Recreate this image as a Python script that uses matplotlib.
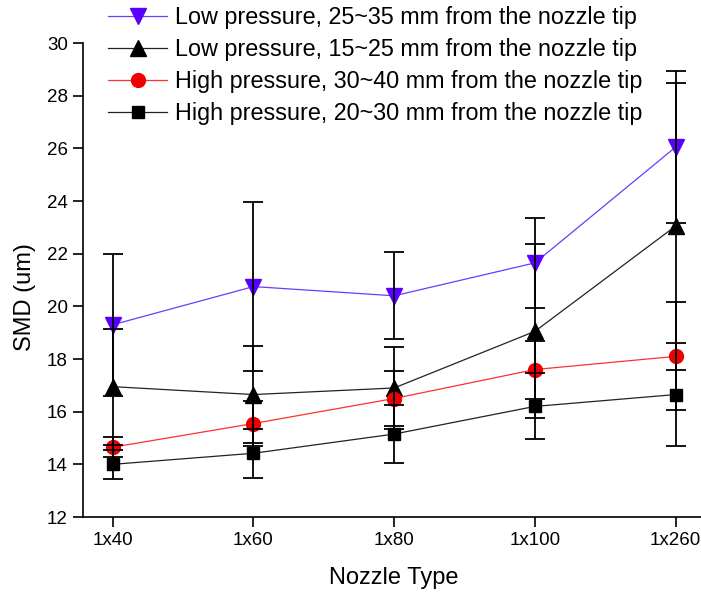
import matplotlib
matplotlib.use("Agg")
import matplotlib.pyplot as plt

plt.rcParams['font.family'] = ['Liberation Sans', 'DejaVu Sans']

# Nozzle types on the x axis
nozzles = ['1x40', '1x60', '1x80', '1x100', '1x260']

# SMD values (um), with their error bars
low_25_35 = [19.3, 20.75, 20.4, 21.65, 26.05]
low_25_35_err = [2.7, 3.2, 1.65, 1.7, 2.9]

low_15_25 = [16.95, 16.65, 16.9, 19.05, 23.05]
low_15_25_err = [2.2, 1.85, 1.55, 3.3, 5.45]

high_30_40 = [14.65, 15.55, 16.5, 17.6, 18.1]
high_30_40_err = [0.38, 0.85, 1.05, 1.1, 2.05]

high_20_30 = [14.0, 14.42, 15.15, 16.2, 16.65]
high_20_30_err = [0.55, 0.92, 1.1, 1.25, 1.95]

labels = ['Low pressure, 25~35 mm from the nozzle tip',
          'Low pressure, 15~25 mm from the nozzle tip',
          'High pressure, 30~40 mm from the nozzle tip',
          'High pressure, 20~30 mm from the nozzle tip']

fig = plt.figure(figsize=(7.01, 5.94), dpi=100)
ax = fig.add_axes([83 / 701, 1 - 517 / 594, (701 - 83) / 701, (517 - 43) / 594])

x = list(range(len(nozzles)))

# lines with markers first, error bars drawn on top of them
series = [
    (low_25_35, low_25_35_err, '#6a3cff', '#5a00ff', 'v', 11),
    (low_15_25, low_15_25_err, '#222222', 'black', '^', 11),
    (high_30_40, high_30_40_err, '#ff3030', '#ee0000', 'o', 10),
    (high_20_30, high_20_30_err, '#222222', 'black', 's', 9),
]
for (vals, errs, lc, mc, mk, ms), lab in zip(series, labels):
    ax.plot(x, vals, color=lc, lw=0.9, marker=mk, markersize=ms,
            markerfacecolor=mc, markeredgecolor=mc, label=lab, zorder=2)
    ax.errorbar(x, vals, yerr=errs, fmt='none', ecolor='black',
                elinewidth=1.3, capsize=7.5, capthick=1.3, zorder=3)

ax.set_xlim(-0.211, 4.18)
ax.set_ylim(12, 30)
ax.set_xticks(x)
ax.set_xticklabels(nozzles)
ax.set_yticks(range(12, 31, 2))

ax.spines['top'].set_visible(False)
ax.spines['right'].set_visible(False)
for s in ['left', 'bottom']:
    ax.spines[s].set_linewidth(1.2)

ax.tick_params(axis='both', direction='out', length=7.5, width=1.2, labelsize=13.5)
ax.tick_params(axis='x', pad=3)
ax.tick_params(axis='y', pad=3.5)

ax.set_xlabel('Nozzle Type', fontsize=17)
ax.set_ylabel('SMD (um)', fontsize=17)
ax.xaxis.set_label_coords(0.503, -0.105)
ax.yaxis.set_label_coords(-0.076, 0.464)

ax.legend(loc='upper left', bbox_to_anchor=(108 / 701, 0.99),
          bbox_transform=fig.transFigure, frameon=False, fontsize=16.8,
          handlelength=2.55, handletextpad=0.33, labelspacing=0.39,
          borderpad=0, borderaxespad=0)

fig.savefig('out.png', dpi=100, facecolor='white')
